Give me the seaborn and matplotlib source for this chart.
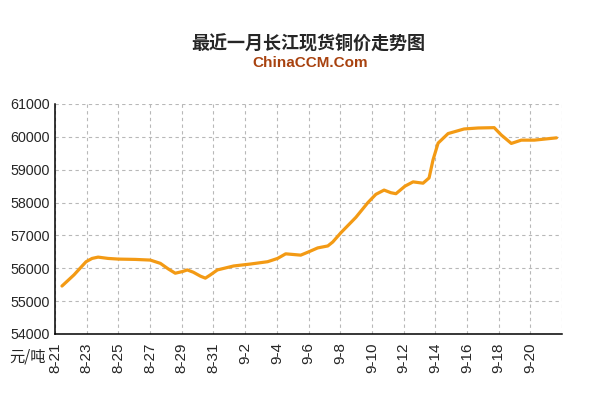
import numpy as np
import pandas as pd
import matplotlib
matplotlib.use("Agg")
import matplotlib.pyplot as plt
import seaborn as sns

# days since 8-21 and price (yuan/ton)
days = [0.44, 1.20, 1.96, 2.34, 2.72, 3.35, 3.99, 5.06, 6.01, 6.65, 7.15, 7.59,
        8.04, 8.35, 8.73, 9.18, 9.49, 9.81, 10.25, 11.27, 12.34, 13.42, 14.05,
        14.56, 15.51, 16.01, 16.58, 17.22, 17.53, 18.04, 18.99, 19.75, 20.25,
        20.77, 21.20, 21.52, 22.09, 22.60, 23.23, 23.61, 23.86, 24.18, 24.81,
        25.82, 26.71, 27.72, 28.16, 28.80, 29.43, 30.25, 31.65]
price = [55460, 55800, 56200, 56300, 56340, 56300, 56280, 56270, 56250, 56150,
         55980, 55850, 55900, 55950, 55880, 55760, 55700, 55800, 55950, 56070,
         56130, 56200, 56300, 56440, 56400, 56500, 56620, 56680, 56800, 57080,
         57550, 58000, 58250, 58380, 58300, 58270, 58500, 58630, 58590, 58750,
         59300, 59810, 60100, 60240, 60270, 60280, 60060, 59800, 59900, 59900,
         59970]
tick_labels = ["8-21", "8-23", "8-25", "8-27", "8-29", "8-31", "9-2", "9-4",
               "9-6", "9-8", "9-10", "9-12", "9-14", "9-16", "9-18", "9-20"]

df = pd.DataFrame({"day": days, "price": price})

sns.set_style("white")
plt.rcParams['font.family'] = ['Liberation Sans', 'Noto Sans CJK SC', 'DejaVu Sans']

fig = plt.figure(figsize=(5.96, 4.18), dpi=100)
ax = fig.add_axes([55/596, 1 - 334/418, (562-55)/596, (334-104)/418])

sns.lineplot(data=df, x="day", y="price", ax=ax, color="#F39A14", linewidth=2.3)

ax.set_xlim(0, 32)
ax.set_ylim(54000, 61000)
ax.set_xticks(np.arange(0, 33, 2))
ax.set_xticklabels(tick_labels + [""], rotation=90, fontsize=11)
ax.set_yticks(np.arange(54000, 61001, 1000))
ax.set_yticklabels([str(v) for v in range(54000, 61001, 1000)], fontsize=10.3)
ax.tick_params(axis="both", direction="in", length=3, width=1, color="black", pad=4)
ax.tick_params(axis="x", pad=6)
ax.grid(True, color="#b8b8b8", linestyle=(0, (3, 3)), linewidth=0.8)
ax.set_xlabel("")
ax.set_ylabel("")
for s in ["top", "right"]:
    ax.spines[s].set_visible(False)
for s in ["left", "bottom"]:
    ax.spines[s].set_color("black")
    ax.spines[s].set_linewidth(1.1)

fig.text(0.518, 1 - 44/418, "最近一月长江现货铜价走势图", ha="center", va="center",
         fontsize=13, fontweight="bold", family=["Noto Sans CJK SC"])
fig.text(0.52, 1 - 63/418, "ChinaCCM.Com", ha="center", va="center",
         fontsize=11, fontweight="bold", color="#A8420F")
fig.text(28/596, 1 - 357/418, "元/吨", ha="center", va="center", fontsize=11,
         family=["Noto Sans CJK SC"])

fig.savefig("out.png", dpi=100)
